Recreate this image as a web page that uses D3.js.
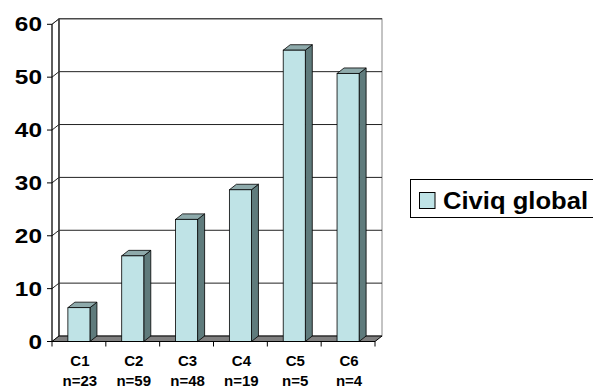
<!DOCTYPE html>
<html>
<head>
<meta charset="utf-8">
<script src="https://cdn.jsdelivr.net/npm/d3@7"></script>
<style>
  body { margin: 0; background: #fff; }
  svg { display: block; font-family: "Liberation Sans", Arial, sans-serif; font-weight: bold; }
</style>
</head>
<body>
<svg id="chart" width="593" height="389"></svg>
<script>
const categories = ["C1", "C2", "C3", "C4", "C5", "C6"];
const counts = ["n=23", "n=59", "n=48", "n=19", "n=5", "n=4"];
const values = [6.4, 16.2, 23.1, 28.7, 55.1, 50.7];
const yTicks = [0, 10, 20, 30, 40, 50, 60];
const seriesName = "Civiq global";

const svg = d3.select("#chart");

// 3d depth offset
const dx = 7, dy = -5.5;

const x = d3.scaleBand().domain(categories).range([52, 375]).padding(0);
const y = d3.scaleLinear().domain([0, 60]).range([341.5, 24.3]);

const x0 = 52, x1 = 375;

// left wall
svg.append("path")
  .attr("d", `M${x0},${y(0)} L${x0},${y(60)} L${x0 + dx},${y(60) + dy} L${x0 + dx},${y(0) + dy} Z`)
  .attr("fill", "#fff").attr("stroke", "#777").attr("stroke-width", 1);

// back wall
svg.append("rect")
  .attr("x", x0 + dx).attr("y", y(60) + dy)
  .attr("width", x1 - x0).attr("height", y(0) - y(60))
  .attr("fill", "#fff").attr("stroke", "#888");

// gridlines: back wall + left wall diagonal
yTicks.filter(d => d > 0).forEach(d => {
  svg.append("line")
    .attr("x1", x0 + dx).attr("x2", x1 + dx)
    .attr("y1", y(d) + dy).attr("y2", y(d) + dy)
    .attr("stroke", "#222");
  svg.append("line")
    .attr("x1", x0).attr("x2", x0 + dx)
    .attr("y1", y(d)).attr("y2", y(d) + dy)
    .attr("stroke", "#222");
});

// back edge of the left wall
svg.append("line")
  .attr("x1", x0 + dx).attr("x2", x0 + dx)
  .attr("y1", y(60) + dy).attr("y2", y(0) + dy)
  .attr("stroke", "#333").attr("stroke-width", 1.5);

// floor
svg.append("path")
  .attr("d", `M${x0},${y(0)} L${x1},${y(0)} L${x1 + dx},${y(0) + dy} L${x0 + dx},${y(0) + dy} Z`)
  .attr("fill", "#808080").attr("stroke", "#000").attr("stroke-width", 1);

// bars
const barW = x.bandwidth() * 0.41;
const bars = svg.append("g").selectAll("g")
  .data(values.map((v, i) => ({ c: categories[i], v })))
  .join("g");

bars.each(function (d) {
  const g = d3.select(this);
  const bx = x(d.c) + (x.bandwidth() - barW) / 2;
  const top = y(d.v), bot = y(0);
  // side
  g.append("path")
    .attr("d", `M${bx + barW},${bot} L${bx + barW},${top} L${bx + barW + dx},${top + dy} L${bx + barW + dx},${bot + dy} Z`)
    .attr("fill", "#5f7b7c").attr("stroke", "#000").attr("stroke-width", 0.8);
  // top
  g.append("path")
    .attr("d", `M${bx},${top} L${bx + barW},${top} L${bx + barW + dx},${top + dy} L${bx + dx},${top + dy} Z`)
    .attr("fill", "#8eaaab").attr("stroke", "#000").attr("stroke-width", 0.8);
  // front
  g.append("rect")
    .attr("x", bx).attr("y", top).attr("width", barW).attr("height", bot - top)
    .attr("fill", "#bfe3e6").attr("stroke", "#000").attr("stroke-width", 0.8);
});

// front axis lines
svg.append("line")
  .attr("x1", x0).attr("x2", x0).attr("y1", y(60)).attr("y2", y(0))
  .attr("stroke", "#000");
svg.append("line")
  .attr("x1", x0).attr("x2", x1).attr("y1", y(0)).attr("y2", y(0))
  .attr("stroke", "#000");

// y ticks and labels
const yAxis = svg.append("g");
yTicks.forEach(d => {
  yAxis.append("line")
    .attr("x1", x0 - 5).attr("x2", x0).attr("y1", y(d)).attr("y2", y(d))
    .attr("stroke", "#000");
  yAxis.append("text")
    .attr("transform", `translate(42,${y(d) + 7}) scale(1.22,1)`)
    .attr("text-anchor", "end")
    .attr("font-size", 20)
    .text(d);
});

// x ticks at category boundaries
const bounds = categories.map(c => x(c)).concat([x1]);
bounds.forEach(b => {
  svg.append("line")
    .attr("x1", b).attr("x2", b).attr("y1", y(0)).attr("y2", y(0) + 5)
    .attr("stroke", "#000");
});

// x labels
categories.forEach((c, i) => {
  const cx = x(c) + x.bandwidth() / 2 + 1;
  svg.append("text")
    .attr("x", cx).attr("y", 365.7)
    .attr("text-anchor", "middle").attr("font-size", 15)
    .text(c);
  svg.append("text")
    .attr("x", cx).attr("y", 386)
    .attr("text-anchor", "middle").attr("font-size", 15)
    .text(counts[i]);
});

// legend
const legend = svg.append("g");
legend.append("rect")
  .attr("x", 410.5).attr("y", 179.5).attr("width", 200).attr("height", 38)
  .attr("fill", "#fff").attr("stroke", "#000");
legend.append("rect")
  .attr("x", 419.5).attr("y", 192.5).attr("width", 15.5).attr("height", 16)
  .attr("fill", "#bfe3e6").attr("stroke", "#000");
legend.append("text")
  .attr("x", 443).attr("y", 209)
  .attr("font-size", 23)
  .attr("textLength", 145).attr("lengthAdjust", "spacingAndGlyphs")
  .text(seriesName);
</script>
</body>
</html>
